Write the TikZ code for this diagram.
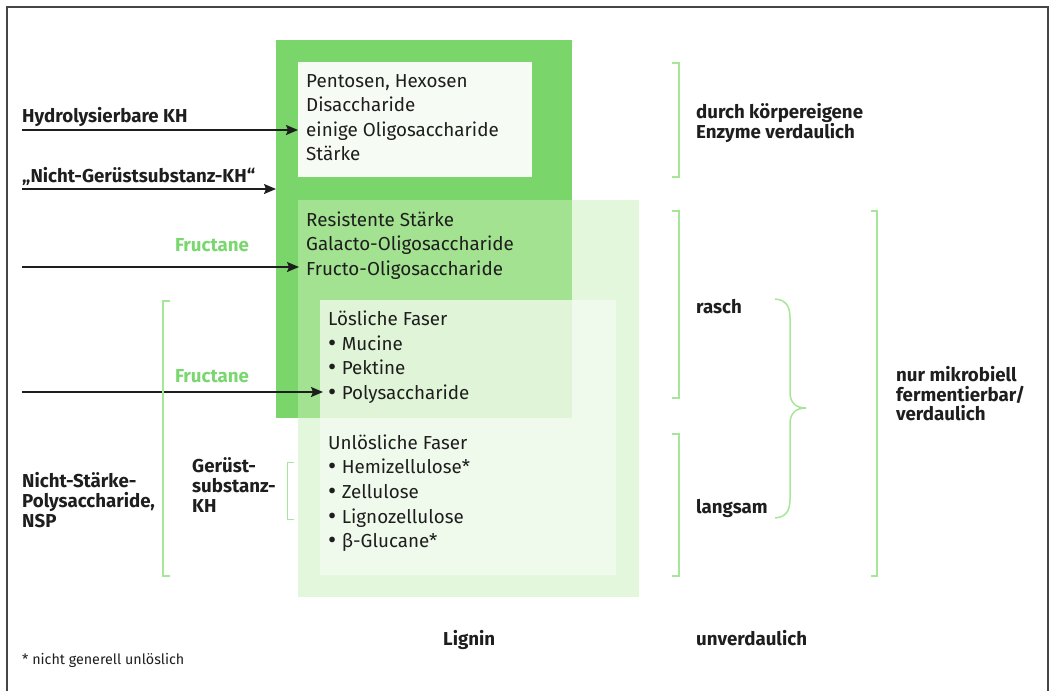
\documentclass[tikz,border=0pt]{standalone}
\usepackage{fontspec}
\setmainfont{Fira Sans}
\usetikzlibrary{arrows.meta}
\definecolor{dkgreen}{RGB}{122,213,106}
\definecolor{whbox}{RGB}{246,251,244}
\definecolor{ltbox}{RGB}{227,247,220}
\definecolor{mdbox}{RGB}{163,226,144}
\definecolor{inbox}{RGB}{240,250,236}
\definecolor{inmd}{RGB}{224,245,216}
\definecolor{brgreen}{RGB}{166,230,152}
\definecolor{fgreen}{RGB}{122,214,110}
\definecolor{txtc}{RGB}{30,30,30}
\definecolor{framec}{RGB}{70,70,70}
\newcommand{\bigbul}{\raisebox{-1.6pt}{\fontsize{25}{22}\selectfont •}\hspace{5.5pt}}
\tikzset{
  txt/.style={anchor=base west, inner sep=0pt, text=txtc, font=\fontsize{18.8}{22}\selectfont},
  lbl/.style={anchor=base west, inner sep=0pt, text=txtc, font=\fontsize{18.7}{22}\selectfont\bfseries},
  frc/.style={anchor=base, inner sep=0pt, text=fgreen, font=\fontsize{18.7}{22}\selectfont\bfseries},
  note/.style={anchor=base west, inner sep=0pt, text=txtc, font=\fontsize{14.3}{17}\selectfont},
  arr/.style={draw=txtc, line width=1.3pt, -{Stealth[length=12pt,width=10pt,inset=2pt]}},
  brk/.style={draw=brgreen, line width=1.5pt},
}
\begin{document}
\begin{tikzpicture}[x=1pt,y=-1pt]
\useasboundingbox (0,0) rectangle (1050,691);
% frame
\draw[framec, line width=1.6pt] (7,700) -- (7,7) -- (1048,7) -- (1048,700);
% boxes
\fill[dkgreen] (276,40) rectangle (572,418);
\fill[whbox] (298,62) rectangle (532,177);
\fill[ltbox] (298,200) rectangle (639,597);
\fill[mdbox] (298,200) rectangle (572,418);
\fill[inbox] (320,300) rectangle (616,575);
\fill[inmd] (320,300) rectangle (572,418);
% box texts
\node[txt] (t1) at (306,87) {Pentosen, Hexosen};
\node[txt] (t2) at (306,111) {Disaccharide};
\node[txt] (t3) at (306,136) {einige Oligosaccharide};
\node[txt] (t4) at (306,160) {Stärke};
\node[txt] (r1) at (306,226) {Resistente Stärke};
\node[txt] (r2) at (306,250) {Galacto-Oligosaccharide};
\node[txt] (r3) at (306,275) {Fructo-Oligosaccharide};
\node[txt] (l1) at (328,325) {Lösliche Faser};
\node[txt] (l2) at (328,350) {\bigbul Mucine};
\node[txt] (l3) at (328,374) {\bigbul Pektine};
\node[txt] (l4) at (328,399) {\bigbul Polysaccharide};
\node[txt] (u1) at (328,449) {Unlösliche Faser};
\node[txt] (u2) at (328,473) {\bigbul Hemizellulose*};
\node[txt] (u3) at (328,498) {\bigbul Zellulose};
\node[txt] (u4) at (328,523) {\bigbul Lignozellulose};
\node[txt] (u5) at (328,547) {\bigbul β-Glucane*};
% left labels
\node[lbl] (hk) at (22,122) {Hydrolysierbare KH};
\node[lbl] (ng) at (22,182) {„Nicht-Gerüstsubstanz-KH“};
\node[frc] (f1) at (212,251) {Fructane};
\node[frc] (f2) at (212,382) {Fructane};
\node[lbl] (n1) at (22,487) {Nicht-Stärke-};
\node[lbl] (n2) at (22,507) {Polysaccharide,};
\node[lbl] (n3) at (22,527) {NSP};
\node[lbl] (g1) at (192,472) {Gerüst-};
\node[lbl] (g2) at (192,492) {substanz-};
\node[lbl] (g3) at (192,512) {KH};
% right labels
\node[lbl] (d1) at (696,118) {durch körpereigene};
\node[lbl] (d2) at (696,138) {Enzyme verdaulich};
\node[lbl] (ra) at (696,313) {rasch};
\node[lbl] (la) at (696,513) {langsam};
\node[lbl] (m1) at (896,381) {nur mikrobiell};
\node[lbl] (m2) at (896,401) {fermentierbar/};
\node[lbl] (m3) at (896,420) {verdaulich};
\node[lbl] (lg) at (443,645) {Lignin};
\node[lbl] (uv) at (696,645) {unverdaulich};
\node[note] (fn) at (22,664) {* nicht generell unlöslich};
% arrows
\coordinate (a1s) at (22,130); \coordinate (a1e) at (298,130);
\coordinate (a2s) at (22,189); \coordinate (a2e) at (276,189);
\coordinate (a3s) at (22,267); \coordinate (a3e) at (299,267);
\coordinate (a4s) at (22,392); \coordinate (a4e) at (323,392);
\draw[arr] (a1s) -- (a1e);
\draw[arr] (a2s) -- (a2e);
\draw[arr] (a3s) -- (a3e);
\draw[arr] (a4s) -- (a4e);
% left brackets
\draw[brk, line width=2.5pt] (170,301) -- (163,301) -- (163,576) -- (170,576);
\draw[brk, line width=1pt] (294,462) -- (287,462) -- (287,519) -- (294,519);
% right brackets
\draw[brk] (672,63) -- (679,63) -- (679,177) -- (672,177);
\draw[brk] (672,211) -- (679,211) -- (679,398) -- (672,398);
\draw[brk] (672,434) -- (679,434) -- (679,576) -- (672,576);
\draw[brk] (871,211) -- (877,211) -- (877,576) -- (871,576);
% curly brace
\draw[brk] (775,299) .. controls (786,300) and (790,306) .. (790,318) -- (790,392)
  .. controls (790,402) and (795,408) .. (806,408)
  .. controls (795,408) and (790,414) .. (790,424) -- (790,499)
  .. controls (790,511) and (786,517) .. (775,518);
\end{tikzpicture}
\end{document}
